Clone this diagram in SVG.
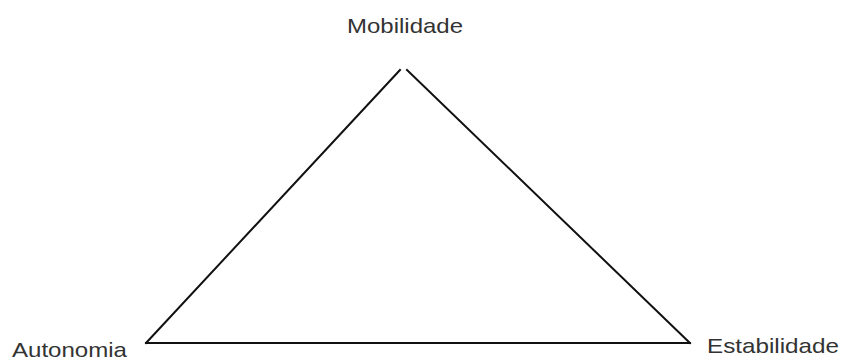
<svg xmlns="http://www.w3.org/2000/svg" width="843" height="362" viewBox="0 0 843 362">
<style>
.lbl{font-family:"Liberation Sans",Arial,sans-serif;font-size:21px;fill:#333}
.edge{stroke:#111;stroke-width:2;fill:none;stroke-linecap:square}
</style>
<rect width="843" height="362" fill="#fff"/>
<g id="mobilidade"><text class="lbl" x="347" y="33" textLength="116" lengthAdjust="spacingAndGlyphs">Mobilidade</text></g>
<g id="autonomia"><text class="lbl" x="12" y="357" textLength="115" lengthAdjust="spacingAndGlyphs">Autonomia</text></g>
<g id="estabilidade"><text class="lbl" x="707" y="353" textLength="132" lengthAdjust="spacingAndGlyphs">Estabilidade</text></g>
<g id="connectors">
<line class="edge" x1="146" y1="343" x2="400" y2="70"/>
<line class="edge" x1="407" y1="70" x2="690" y2="343"/>
<line class="edge" x1="146" y1="343" x2="690" y2="343"/>
</g>
</svg>
